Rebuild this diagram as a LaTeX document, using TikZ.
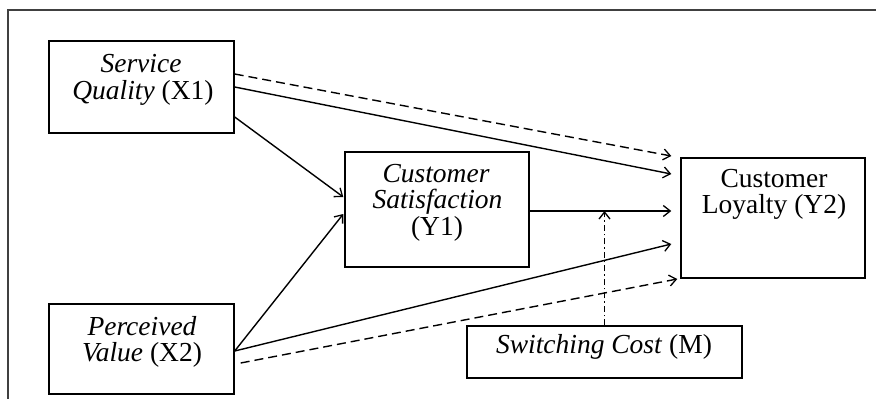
\documentclass[tikz,border=0pt]{standalone}
\usepackage{fontspec}
\setmainfont{Liberation Serif}
\usetikzlibrary{arrows.meta}
\begin{document}
\begin{tikzpicture}[x=1pt,y=-1pt,
  box/.style={draw,line width=1.4pt,minimum width=#1,inner sep=0pt},
  txt/.style={anchor=base,inner sep=0pt,font=\fontsize{27.5}{27.5}\selectfont},
  arr/.style={line width=1.4pt,-{Straight Barb[length=7pt,width=11pt,line width=1.3pt]}},
  dsh/.style={arr,dash pattern=on 9pt off 5pt},
  dshdot/.style={arr,dash pattern=on 6pt off 3pt on 1.5pt off 3pt}]
\useasboundingbox (0,0) rectangle (876,399);
% frame (cropped)
\draw[line width=1.6pt,black!75] (8,399) -- (8,10) -- (877,10);
% boxes
\node[box=185pt,minimum height=92pt] (sq) at (141.5,87) {};
\node[box=185pt,minimum height=90pt] (pv) at (141.5,349) {};
\node[box=184pt,minimum height=115pt] (cs) at (437,209.5) {};
\node[box=184pt,minimum height=120pt] (cl) at (773,218) {};
\node[box=275pt,minimum height=52pt] (sc) at (604.5,352) {};
% texts
\node[txt] (sqa) at (141,72) {\itshape Service};
\node[txt] (sqb) at (143,99) {\itshape Quality\/ \upshape(X1)};
\node[txt] (pva) at (142,335) {\itshape Perceived};
\node[txt] (pvb) at (142,361) {\itshape Value\/ \upshape(X2)};
\node[txt] (csa) at (436,182) {\itshape Customer};
\node[txt] (csb) at (437.5,208) {\itshape Satisfaction};
\node[txt] (csc) at (437,235) {(Y1)};
\node[txt] (cla) at (774,187) {Customer};
\node[txt] (clb) at (774,213.5) {Loyalty (Y2)};
\node[txt] (sct) at (604,353) {\itshape Switching Cost\/ \upshape(M)};
% connectors
\draw[dsh] ([yshift=13pt]sq.east) -- ([xshift=-9pt,yshift=62pt]cl.west);
\draw[arr] (sq.east) -- ([xshift=-9pt,yshift=44pt]cl.west);
\draw[arr] ([yshift=-30pt]sq.east) -- ([xshift=-1pt,yshift=12.5pt]cs.west);
\draw[arr] ([yshift=-2pt]pv.east) -- ([xshift=-1pt,yshift=-4.5pt]cs.west);
\draw[arr] ([yshift=-2pt]pv.east) -- ([xshift=-9pt,yshift=-26pt]cl.west);
\draw[dsh] ([xshift=6pt,yshift=-14pt]pv.east) -- ([xshift=-3pt,yshift=-61pt]cl.west);
\draw[arr] ([yshift=-1.5pt]cs.east) -- ([xshift=-9pt,yshift=-1.5pt]cs.east -| cl.west);
\coordinate (m) at ([yshift=-1.5pt]sc.north |- cs.east);
\draw[dshdot] (sc.north) -- (m);
\end{tikzpicture}
\end{document}
